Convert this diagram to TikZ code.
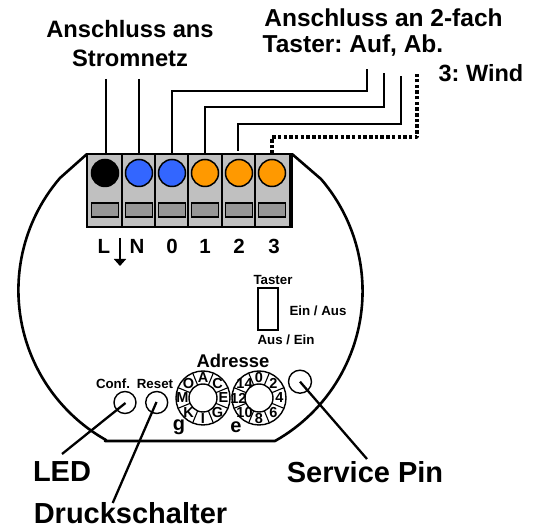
\documentclass[tikz,border=0pt]{standalone}
\usepackage{fontspec}
\setmainfont{Liberation Sans}[BoldFont={Liberation Sans Bold}]
\usetikzlibrary{arrows.meta,calc}
\frenchspacing
\definecolor{blockgray}{RGB}{192,192,192}
\definecolor{slotgray}{RGB}{150,150,150}
\definecolor{termblue}{RGB}{51,102,255}
\definecolor{termorange}{RGB}{255,153,0}
\tikzset{
  lbl/.style={font=\bfseries\fontsize{#1}{#1}\selectfont\frenchspacing,inner sep=0pt,align=center,text=black},
  term/.style={circle,draw=black,line width=1.5pt,minimum size=27pt,inner sep=0pt,fill=#1},
  slot/.style={rectangle,draw=black,line width=1.2pt,fill=slotgray,minimum width=27.5pt,minimum height=14pt,inner sep=0pt},
  wire/.style={line width=2.7pt,line cap=butt,line join=miter},
  dotwire/.style={line width=3.8pt,dash pattern=on 3.5pt off 2.2pt,line join=round},
  port/.style={circle,draw=black,line width=1.4pt,minimum size=#1,inner sep=0pt,fill=white},
  lead/.style={line width=2.3pt},
  dial/.style={circle,draw=black,line width=1.4pt,minimum size=54pt,inner sep=0pt},
  dialhub/.style={circle,draw=black,line width=1.4pt,minimum size=28pt,inner sep=0pt,fill=white},
  diallbl/.style={lbl=14.5}
}
\begin{document}
\begin{tikzpicture}[x=1pt,y=-1pt]
\useasboundingbox (0,0) rectangle (539,526);
% body
\draw[line width=2.6pt,line join=round] (87,154) -- (60,178) arc[start angle=220.7,end angle=119.4,radius=172] -- (105,441) -- (275,441) arc[start angle=60.6,end angle=-40.7,radius=172] -- (292,154);
% terminal block
\node[draw=black,line width=2.4pt,fill=blockgray,minimum width=205pt,minimum height=73pt,inner sep=0pt] (block) at (189.5,190.5) {};
\foreach \x/\n in {122/a,155/b,188/c,222/d,255/e}{
  \draw[line width=1.4pt] (\x,154) -- (\x,227);
}
\draw[line width=3.2pt] (291,154) -- (291,227);
\node[term=black] (tL) at (105,173) {};
\node[term=termblue] (tN) at (139,173) {};
\node[term=termblue] (t0) at (172,173) {};
\node[term=termorange] (t1) at (205,173) {};
\node[term=termorange] (t2) at (239,173) {};
\node[term=termorange] (t3) at (272,173) {};
\foreach \x/\n in {105/sa,139/sb,172/sc,205/sd,239/se,272/sf}{
  \node[slot] (\n) at (\x,210) {};
}
% wires
\coordinate (wLa) at (106,79); \coordinate (wLb) at (106,154);
\coordinate (wNa) at (139,79); \coordinate (wNb) at (139,154);
\draw[wire] (wLa) -- (wLb);
\draw[wire] (wNa) -- (wNb);
\coordinate (w0a) at (172,154); \coordinate (w0b) at (172,91); \coordinate (w0c) at (367,91); \coordinate (w0d) at (367,69);
\draw[wire] (w0a) -- (w0b) -- (w0c) -- (w0d);
\coordinate (w1a) at (205,154); \coordinate (w1b) at (205,107); \coordinate (w1c) at (384,107); \coordinate (w1d) at (384,73);
\draw[wire] (w1a) -- (w1b) -- (w1c) -- (w1d);
\coordinate (w2a) at (238,151); \coordinate (w2b) at (238,124); \coordinate (w2c) at (401,124); \coordinate (w2d) at (401,76);
\draw[wire] (w2a) -- (w2b) -- (w2c) -- (w2d);
\coordinate (w3a) at (272,154); \coordinate (w3b) at (272,137); \coordinate (w3c) at (417,137); \coordinate (w3d) at (417,74);
\draw[dotwire] (w3a) -- (w3b) -- (w3c) -- (w3d);
% top labels
\node[lbl=23.7] (t1a) at (130,29) {Anschluss ans};
\node[lbl=23.7] (t1b) at (130,58) {Stromnetz};
\node[lbl=24.5] (t2a) at (383.5,18) {Anschluss an 2-fach};
\node[lbl=24.5] (t2b) at (353,46) {Taster: Auf, Ab.};
\node[lbl=23.5] (t3l) at (481,73) {3: Wind};
% terminal labels
\node[lbl=20.5] (lL) at (104,246) {L};
\node[lbl=20.5] (lN) at (137,246) {N};
\node[lbl=20.5] (l0) at (172,246) {0};
\node[lbl=20.5] (l1) at (205,246) {1};
\node[lbl=20.5] (l2) at (239,246) {2};
\node[lbl=20.5] (l3) at (274,246) {3};
\coordinate (ara) at (120,238); \coordinate (arb) at (120,266);
\draw[line width=2.2pt,-{Stealth[length=7pt,width=12pt,inset=0pt]}] (ara) -- (arb);
% switch
\node[draw=black,line width=1.5pt,fill=white,minimum width=20pt,minimum height=42pt,inner sep=0pt] (sw) at (268,309) {};
\node[lbl=13.3] (sw1) at (273,280) {Taster};
\node[lbl=13.3] (sw2) at (318,311) {Ein / Aus};
\node[lbl=13.3] (sw3) at (286,340) {Aus / Ein};
% dials
\node[lbl=18.4] (adr) at (233,361) {Adresse};
\node[dial] (dg) at (203,398) {};
\node[dial] (de) at (259,398) {};
\foreach \d in {dg,de}{
  \foreach \a in {22.5,67.5,...,337.5}{
    \draw[line width=1.1pt] (\d.center) ++(\a:27) -- ++(\a+180:13);
  }
  \node[dialhub] at (\d.center) {};
}
\foreach \t/\a in {A/-90,C/-45,E/0,G/45,I/90,K/135,M/180,O/225}{
  \node[diallbl] at ($(dg.center)+(\a:20.5)$) {\t};
}
\foreach \t/\a in {0/-90,2/-45,4/0,6/45,8/90,10/135,12/180,14/225}{
  \node[diallbl] at ($(de.center)+(\a:20.5)$) {\t};
}
\node[lbl=20] (lg) at (179,427) {g};
\node[lbl=20] (le) at (236,427) {e};
% ports
\node[port=22pt] (conf) at (125,402.5) {};
\node[port=22pt] (reset) at (156.7,402.5) {};
\node[port=23pt] (serv) at (300,381.7) {};
\node[lbl=13.3] (lconf) at (113,384) {Conf.};
\node[lbl=13.3] (lreset) at (155,384) {Reset};
% bottom labels
\node[lbl=29] (led) at (62,472) {LED};
\node[lbl=29] (ds) at (130.5,513.5) {Druckschalter};
\node[lbl=29] (sp) at (365,472) {Service Pin};
\coordinate (ca) at (125.5,403); \coordinate (cb) at (62,454);
\coordinate (ra) at (156.5,402); \coordinate (rb) at (112.7,503);
\coordinate (sa2) at (300,381.7); \coordinate (sb2) at (367,459);
\draw[lead] (ca) -- (cb);
\draw[lead] (ra) -- (rb);
\draw[lead] (sa2) -- (sb2);
\end{tikzpicture}
\end{document}
